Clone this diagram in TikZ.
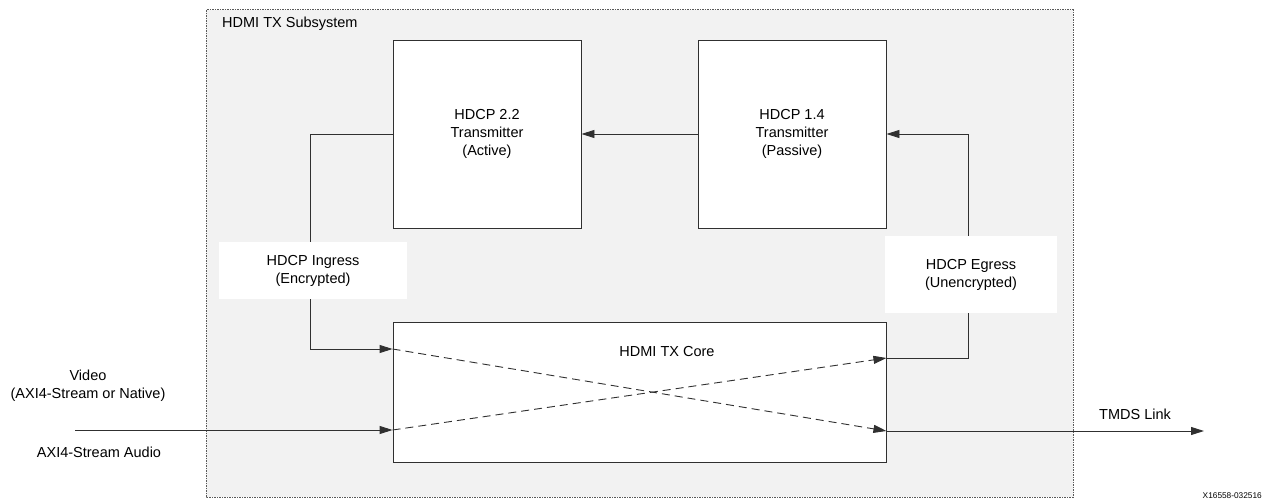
\documentclass[tikz,border=0pt]{standalone}
\usepackage{fontspec}
\setmainfont{Liberation Sans}
\usetikzlibrary{arrows.meta}
\definecolor{subgray}{HTML}{F2F2F2}
\definecolor{linegray}{HTML}{303030}

\begin{document}
\begin{tikzpicture}[x=1pt, y=-1pt,
  every node/.style={font=\fontsize{14.5}{18}\selectfont, align=center, inner sep=0pt},
  block/.style={draw=linegray, line width=0.9pt, fill=white},
  lbl/.style={fill=white},
  flow/.style={draw=linegray, line width=0.9pt, -{Triangle[length=13pt, width=8pt]}},
  dflow/.style={flow, dash pattern=on 8pt off 5pt}]
\useasboundingbox (0,0) rectangle (1271,500);

\draw[draw=black!65, fill=subgray, line width=1pt, dash pattern=on 2pt off 1pt on 1pt off 1pt]
  (206,10) rectangle (1073,497);
\node[anchor=west] (subsys) at (222,24) {HDMI TX Subsystem};

\node[block, minimum width=188, minimum height=188] (hdcp22) at (487,134)
  {HDCP 2.2\\Transmitter\\(Active)};
\node[block, minimum width=188, minimum height=188] (hdcp14) at (792,134)
  {HDCP 1.4\\Transmitter\\(Passive)};
\node[block, minimum width=493, minimum height=140] (core) at (639.5,392) {};
\node (coretxt) at (667,352) {HDMI TX Core};

\coordinate (inA) at (core.west |- 0,349);
\coordinate (inB) at (core.west |- 0,430);
\coordinate (outA) at (core.east |- 0,358);
\coordinate (outB) at (core.east |- 0,431);
\coordinate (vidin) at (75,430);
\coordinate (tmds) at (1204,431);

\draw[flow] (hdcp14.west) -- (hdcp22.east);
\draw[flow] (hdcp22.west) -- ++(-82,0) |- (inA);
\draw[flow] (outA) -- ++(82,0) |- (hdcp14.east);

\draw[dflow] (inA) -- (outB);
\draw[dflow] (inB) -- (outA);

\draw[flow] (vidin) -- (inB);
\draw[flow] (outB) -- (tmds);

\node[lbl, minimum width=188, minimum height=57] (ingress) at (313,270.5)
  {HDCP Ingress\\(Encrypted)};
\node[lbl, minimum width=172, minimum height=77] (egress) at (971,274.5)
  {HDCP Egress\\(Unencrypted)};

\node (video) at (88,386) {Video\\(AXI4-Stream or Native)};
\node (audio) at (99,452) {AXI4-Stream Audio};
\node (tmdstxt) at (1135,414) {TMDS Link};
\node[font=\fontsize{8.3}{10}\selectfont, anchor=east] (fig) at (1262,496) {X16558-032516};

\end{tikzpicture}
\end{document}
